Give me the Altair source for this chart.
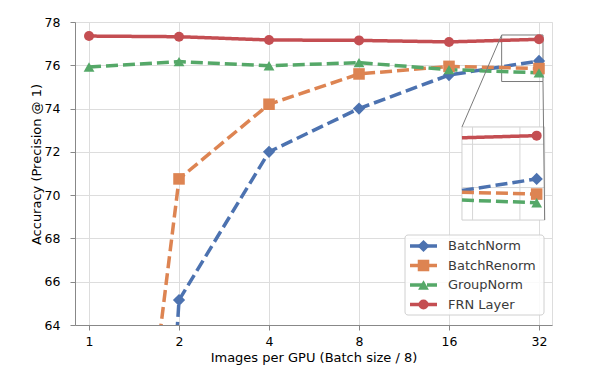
import math
import altair as alt
import pandas as pd

# ---------------- data ----------------
images = [1, 2, 4, 8, 16, 32]
methods = ["BatchNorm", "BatchRenorm", "GroupNorm", "FRN Layer"]
batchnorm = [0.1, 65.15, 72.0, 74.0, 75.55, 76.2]
batchrenorm = [37.0, 70.75, 74.2, 75.6, 75.95, 75.85]
groupnorm = [75.92, 76.17, 75.98, 76.12, 75.8, 75.65]
frn_layer = [77.35, 77.32, 77.17, 77.15, 77.08, 77.2]
x_ticks = [1, 2, 4, 8, 16, 32]
y_ticks = [64, 66, 68, 70, 72, 74, 76, 78]
inset_x_ticks = [25, 30]
inset_y_ticks = [76, 77]

colors = ["#4C72B0", "#DD8452", "#55A868", "#C44E52"]
shapes = ["diamond", "square", "triangle-up", "circle"]
sizes = [150, 100, 130, 115]
dashes = [[12, 5], [12, 5], [12, 5], [1, 0]]

series = [batchnorm, batchrenorm, groupnorm, frn_layer]
df = pd.DataFrame(
    [{"images": x, "acc": v, "method": m}
     for m, vals in zip(methods, series) for x, v in zip(images, vals)]
)

# ---------------- layout ----------------
W, H = 477, 303
XDOM = [0.8976, 35.37]
YDOM = [64, 78]
# zoom box (data units) and inset placement (data units of the main axes)
BX0, BX1, BY0, BY1 = 24.0, 33.0, 75.25, 77.4
Z = 2.0
IX0, IY1 = 17.68, 73.15
IX1 = 2 ** (math.log2(IX0) + (math.log2(BX1) - math.log2(BX0)) * Z)
IY0 = IY1 - (BY1 - BY0) * Z

FONT = "DejaVu Sans"
TXT = "#3a3a3a"
GRID = "#d6d6d6"

xs = alt.Scale(type="log", base=2, domain=XDOM, nice=False)
ys = alt.Scale(domain=YDOM, nice=False, zero=False)
xaxis = alt.Axis(values=x_ticks, format="d", title="Images per GPU (Batch size / 8)",
                 labelPadding=5, titlePadding=4, titleFontWeight=400,
                 titleFont=FONT, labelFont=FONT, titleFontSize=13, labelFontSize=12.5)
yaxis = alt.Axis(values=y_ticks, title="Accuracy (Precision @ 1)",
                 labelPadding=10, titlePadding=1, titleY=142, titleFontWeight=400,
                 titleFont=FONT, labelFont=FONT, titleFontSize=13, labelFontSize=12.5)


def X(f):
    return alt.X(f, type="quantitative", scale=xs, axis=xaxis)


def Y(f):
    return alt.Y(f, type="quantitative", scale=ys, axis=yaxis)


color = alt.Color("method:N", scale=alt.Scale(domain=methods, range=colors), legend=None)
shape = alt.Shape("method:N", scale=alt.Scale(domain=methods, range=shapes), legend=None)
size = alt.Size("method:O", scale=alt.Scale(domain=methods, range=sizes), legend=None)
dash = alt.StrokeDash("method:N", scale=alt.Scale(domain=methods, range=dashes), legend=None)

base = alt.Chart(df)

# zoom box on the main axes
box_df = pd.DataFrame([{"x0": BX0, "x1": BX1, "y0": BY0, "y1": BY1}])
zoom_box = alt.Chart(box_df).mark_rect(fill=None, stroke="#7a7a7a", strokeWidth=1).encode(
    x=X("x0"), x2="x1", y=Y("y0"), y2="y1")

lines = base.mark_line(strokeWidth=3.5, clip=True, strokeCap="butt").encode(
    x=X("images"), y=Y("acc"), color=color, strokeDash=dash, detail="method:N",
    order="images:Q")
points = base.mark_point(filled=True, opacity=1, clip=True).encode(
    x=X("images"), y=Y("acc"), color=color, shape=shape, size=size)

# inset frame
inset_df = pd.DataFrame([{"x0": IX0, "x1": IX1, "y0": IY0, "y1": IY1}])
inset_frame = alt.Chart(inset_df).mark_rect(fill="white", stroke="#cfcfcf", strokeWidth=1).encode(
    x=X("x0"), x2="x1", y=Y("y0"), y2="y1")

lx_expr = f"pow(2, log({IX0})/LN2 + (log(datum.v)/LN2 - log({BX0})/LN2)*{Z})"
ly_expr = f"{IY1} - ({BY1} - datum.v)*{Z}"

igx = alt.Chart(pd.DataFrame({"v": inset_x_ticks})).transform_calculate(
    ix=lx_expr, ya=str(IY0), yb=str(IY1)
).mark_rule(color=GRID, strokeWidth=1).encode(x=X("ix:Q"), y=Y("ya:Q"), y2="yb:Q")
igy = alt.Chart(pd.DataFrame({"v": inset_y_ticks})).transform_calculate(
    iy=ly_expr, xa=str(IX0), xb=str(IX1)
).mark_rule(color=GRID, strokeWidth=1).encode(y=Y("iy:Q"), x=X("xa:Q"), x2="xb:Q")

inset_data = base.transform_window(
    window=[alt.WindowFieldDef(op="lag", field="acc", **{"as": "prev_acc"}),
            alt.WindowFieldDef(op="lag", field="images", **{"as": "prev_img"})],
    groupby=["method"], sort=[alt.SortField("images")]
).transform_filter("datum.images == 32").transform_calculate(
    f=f"(log({BX0}) - log(datum.prev_img)) / (log(datum.images) - log(datum.prev_img))",
    ye="datum.prev_acc + (datum.acc - datum.prev_acc)*datum.f",
    iye=f"{IY1} - ({BY1} - datum.ye)*{Z}",
    iy=f"{IY1} - ({BY1} - datum.acc)*{Z}",
    ix=f"pow(2, log({IX0})/LN2 + (log(datum.images)/LN2 - log({BX0})/LN2)*{Z})",
    ixe=str(IX0),
)
inset_lines = inset_data.mark_rule(strokeWidth=3.5, strokeCap="butt").encode(
    x=X("ixe:Q"), x2="ix:Q", y=Y("iye:Q"), y2="iy:Q", color=color, strokeDash=dash)
inset_points = inset_data.mark_point(filled=True, opacity=1).encode(
    x=X("ix:Q"), y=Y("iy:Q"), color=color, shape=shape, size=size)

conn_df = pd.DataFrame([
    {"xa": BX0, "ya": BY1, "xb": IX0, "yb": IY1},
    {"xa": BX1, "ya": BY0, "xb": IX1, "yb": IY0},
])
connectors = alt.Chart(conn_df).mark_rule(color="#7a7a7a", strokeWidth=1).encode(
    x=X("xa"), y=Y("ya"), x2="xb", y2="yb")

# legend (pixel layout inside the plot area)
leg_df = pd.DataFrame({"method": methods, "i": list(range(len(methods)))})
leg = alt.Chart(leg_df).transform_calculate(ly="224 + 19.5*datum.i")
leg_frame = alt.Chart(pd.DataFrame({"a": [0]})).mark_rect(
    fill="white", fillOpacity=0.85, stroke="#d0d0d0", strokeWidth=1, cornerRadius=3
).encode(x=alt.value(330), x2=alt.value(469), y=alt.value(213), y2=alt.value(293))
leg_lines = leg.mark_rule(strokeWidth=3.5, strokeCap="butt").encode(
    x=alt.value(335), x2=alt.value(362), y=alt.Y("ly:Q", scale=None), color=color,
    strokeDash=alt.StrokeDash("method:N", scale=alt.Scale(domain=methods,
                              range=[[7, 3], [7, 3], [7, 3], [1, 0]]), legend=None))
leg_pts = leg.mark_point(filled=True, opacity=1).encode(
    x=alt.value(348.5), y=alt.Y("ly:Q", scale=None), color=color, shape=shape, size=size)
leg_txt = leg.mark_text(align="left", baseline="middle", font=FONT, fontSize=13, color=TXT).encode(
    x=alt.value(373), y=alt.Y("ly:Q", scale=None), text="method:N")

chart = alt.layer(
    zoom_box, lines, points, inset_frame, igx, igy, inset_lines, inset_points, connectors,
    leg_frame, leg_lines, leg_pts, leg_txt
).properties(
    width=W, height=H,
    autosize=alt.AutoSizeParams(type="none"),
    padding={"left": 67, "top": 14, "right": 8, "bottom": 40},
).configure_view(stroke="#cccccc", strokeWidth=1).configure_axis(
    labelFont=FONT, titleFont=FONT, labelFontSize=12.5, titleFontSize=13,
    labelColor=TXT, titleColor=TXT, titleFontWeight="normal",
    grid=True, gridColor=GRID, gridWidth=1, domain=False, ticks=False,
).configure(background="white")

chart.save("out.html", embed_options={"renderer": "svg", "actions": False})
